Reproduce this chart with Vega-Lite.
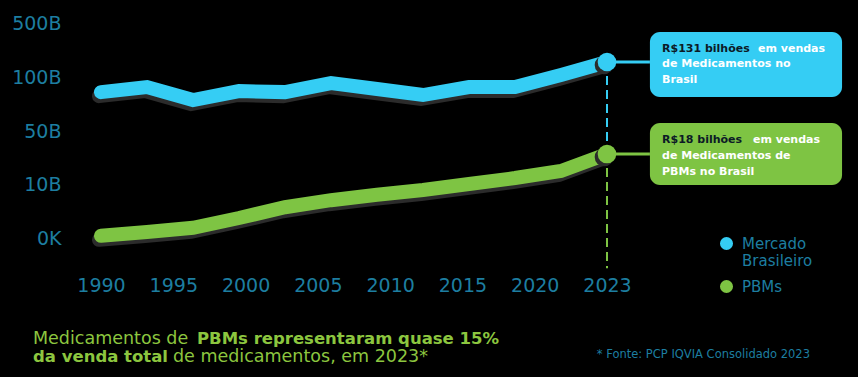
{
  "$schema": "https://vega.github.io/schema/vega-lite/v6.json",
  "autosize": "none",
  "padding": {"left": 70, "top": 0, "right": 0, "bottom": 107},
  "width": 788,
  "height": 270,
  "background": "#000000",
  "config": {
    "view": {"stroke": null},
    "axis": {"grid": false, "domain": false, "ticks": false, "labelFont": "DejaVu Sans", "labelFontSize": 19, "labelColor": "#1d7ea0", "labelOverlap": false, "labelFlush": false}
  },
  "datasets": {
    "serie": [
      {"ano": 1990, "valor": 86, "serie": "Mercado Brasileiro"},
      {"ano": 1993, "valor": 90.7, "serie": "Mercado Brasileiro"},
      {"ano": 1996, "valor": 78.7, "serie": "Mercado Brasileiro"},
      {"ano": 1999, "valor": 87, "serie": "Mercado Brasileiro"},
      {"ano": 2002, "valor": 86, "serie": "Mercado Brasileiro"},
      {"ano": 2005, "valor": 94.4, "serie": "Mercado Brasileiro"},
      {"ano": 2008, "valor": 88.9, "serie": "Mercado Brasileiro"},
      {"ano": 2011, "valor": 83.3, "serie": "Mercado Brasileiro"},
      {"ano": 2014, "valor": 90.7, "serie": "Mercado Brasileiro"},
      {"ano": 2017, "valor": 90.7, "serie": "Mercado Brasileiro"},
      {"ano": 2020, "valor": 114.8, "serie": "Mercado Brasileiro"},
      {"ano": 2023, "valor": 211, "serie": "Mercado Brasileiro"},
      {"ano": 1990, "valor": 0.4, "serie": "PBMs"},
      {"ano": 1993, "valor": 1.1, "serie": "PBMs"},
      {"ano": 1996, "valor": 1.9, "serie": "PBMs"},
      {"ano": 1999, "valor": 3.7, "serie": "PBMs"},
      {"ano": 2002, "valor": 5.7, "serie": "PBMs"},
      {"ano": 2005, "valor": 7.0, "serie": "PBMs"},
      {"ano": 2008, "valor": 8.0, "serie": "PBMs"},
      {"ano": 2011, "valor": 8.9, "serie": "PBMs"},
      {"ano": 2014, "valor": 10.0, "serie": "PBMs"},
      {"ano": 2017, "valor": 14.5, "serie": "PBMs"},
      {"ano": 2020, "valor": 19.8, "serie": "PBMs"},
      {"ano": 2023, "valor": 32.6, "serie": "PBMs"}
    ],
    "guias": [
      {"serie": "Mercado Brasileiro", "de": 211, "ate": 32.6},
      {"serie": "PBMs", "de": 32.6, "ate": -5.6}
    ],
    "caixas": [
      {"serie": "Mercado Brasileiro", "x1": 2025.8, "x2": 2038.33, "y1": 433, "y2": 81.5},
      {"serie": "PBMs", "x1": 2025.8, "x2": 2038.33, "y1": 57.4, "y2": 9.81}
    ],
    "textos": [
      {"grupo": "destaque", "x": 2026.59, "y": 307, "texto": "R$131 bilhões"},
      {"grupo": "caixa", "x": 2032.85, "y": 307, "texto": "em vendas"},
      {"grupo": "caixa", "x": 2026.59, "y": 196, "texto": "de Medicamentos no"},
      {"grupo": "caixa", "x": 2026.59, "y": 97.2, "texto": "Brasil"},
      {"grupo": "destaque", "x": 2026.59, "y": 43.2, "texto": "R$18 bilhões"},
      {"grupo": "caixa", "x": 2032.52, "y": 43.2, "texto": "em vendas"},
      {"grupo": "caixa", "x": 2026.59, "y": 31.1, "texto": "de Medicamentos de"},
      {"grupo": "caixa", "x": 2026.59, "y": 19.4, "texto": "PBMs no Brasil"},
      {"grupo": "rodape", "x": 1985.565, "y": -18.7, "texto": "Medicamentos de"},
      {"grupo": "rodape_negrito", "x": 1996.26, "y": -18.7, "texto": "PBMs representaram quase 15%"},
      {"grupo": "rodape_negrito", "x": 1985.565, "y": -22.0, "texto": "da venda total"},
      {"grupo": "rodape", "x": 1994.695, "y": -22.0, "texto": "de medicamentos, em 2023*"},
      {"grupo": "fonte", "x": 2036.24, "y": -21.67, "texto": "* Fonte: PCP IQVIA Consolidado 2023"}
    ]
  },
  "layer": [
    {
      "data": {"name": "guias"},
      "mark": {"type": "rule", "strokeDash": [9, 5], "strokeWidth": 2},
      "encoding": {
        "x": {"datum": 2023, "type": "quantitative"},
        "y": {"field": "de", "type": "quantitative"},
        "y2": {"field": "ate"},
        "color": {"field": "serie", "type": "nominal"}
      }
    },
    {
      "data": {"name": "serie"},
      "transform": [{"filter": "datum.ano == 2023"}],
      "mark": {"type": "rule", "strokeWidth": 3},
      "encoding": {
        "x": {"field": "ano", "type": "quantitative"},
        "x2": {"datum": 2025.8},
        "y": {"field": "valor", "type": "quantitative"},
        "color": {"field": "serie", "type": "nominal"}
      }
    },
    {
      "data": {"name": "caixas"},
      "mark": {"type": "rect", "cornerRadius": 10},
      "encoding": {
        "x": {"field": "x1", "type": "quantitative"},
        "x2": {"field": "x2"},
        "y": {"field": "y1", "type": "quantitative"},
        "y2": {"field": "y2"},
        "color": {"field": "serie", "type": "nominal"}
      }
    },
    {
      "data": {"name": "serie"},
      "mark": {"type": "line", "strokeWidth": 14, "strokeCap": "round", "color": "#2b2b2b", "xOffset": -2, "yOffset": 4},
      "encoding": {
        "x": {"field": "ano", "type": "quantitative"},
        "y": {"field": "valor", "type": "quantitative"},
        "detail": {"field": "serie"}
      }
    },
    {
      "data": {"name": "serie"},
      "mark": {"type": "line", "strokeWidth": 14, "strokeCap": "round"},
      "encoding": {
        "x": {
          "field": "ano", "type": "quantitative",
          "scale": {"domain": [1987.978, 2039.37], "nice": false, "zero": false},
          "axis": {
            "title": null,
            "values": [1990, 1994.714, 1999.429, 2004.143, 2008.857, 2013.571, 2018.286, 2023],
            "labelExpr": "['1990','1995','2000','2005','2010','2015','2020','2023'][round((datum.value-1990)*7/33)]",
            "labelPadding": 6
          }
        },
        "y": {
          "field": "valor", "type": "quantitative",
          "scale": {"type": "linear", "domain": [0, 10, 50, 100, 500], "range": [238, 184, 131, 77, 23], "nice": false, "zero": false},
          "axis": {
            "title": null,
            "values": [0, 10, 50, 100, 500],
            "labelExpr": "datum.value == 0 ? '0K' : datum.value + 'B'",
            "labelPadding": 9
          }
        },
        "color": {"field": "serie", "type": "nominal",
          "scale": {"domain": ["Mercado Brasileiro", "PBMs"], "range": ["#35cdf4", "#7ec443"]}}
      }
    },
    {
      "data": {"name": "serie"},
      "transform": [{"filter": "datum.ano == 2023"}],
      "mark": {"type": "point", "filled": true, "opacity": 1, "size": 346, "color": "#2b2b2b", "xOffset": -3, "yOffset": 3},
      "encoding": {
        "x": {"field": "ano", "type": "quantitative"},
        "y": {"field": "valor", "type": "quantitative"}
      }
    },
    {
      "data": {"name": "serie"},
      "transform": [{"filter": "datum.ano == 2023"}],
      "mark": {"type": "point", "filled": true, "opacity": 1, "size": 346, "shape": "circle"},
      "encoding": {
        "x": {"field": "ano", "type": "quantitative"},
        "y": {"field": "valor", "type": "quantitative"},
        "color": {
          "field": "serie", "type": "nominal",
          "legend": {
            "title": null, "orient": "none", "legendX": 649, "legendY": 236,
            "symbolType": "circle", "symbolSize": 170, "symbolOpacity": 1, "symbolStrokeWidth": 0,
            "labelFont": "DejaVu Sans", "labelFontSize": 15, "labelColor": "#1d7ea0",
            "labelOffset": 8, "rowPadding": 10,
            "labelExpr": "datum.label == 'Mercado Brasileiro' ? ['Mercado', 'Brasileiro'] : datum.label"
          }
        }
      }
    },
    {
      "data": {"name": "textos"},
      "transform": [{"filter": "datum.grupo == 'destaque'"}],
      "mark": {"type": "text", "font": "DejaVu Sans", "fontWeight": "bold", "fontSize": 11, "color": "#0c1a26", "align": "left", "baseline": "middle"},
      "encoding": {
        "x": {"field": "x", "type": "quantitative"},
        "y": {"field": "y", "type": "quantitative"},
        "text": {"field": "texto"}
      }
    },
    {
      "data": {"name": "textos"},
      "transform": [{"filter": "datum.grupo == 'caixa'"}],
      "mark": {"type": "text", "font": "DejaVu Sans", "fontWeight": "bold", "fontSize": 11, "color": "#ffffff", "align": "left", "baseline": "middle"},
      "encoding": {
        "x": {"field": "x", "type": "quantitative"},
        "y": {"field": "y", "type": "quantitative"},
        "text": {"field": "texto"}
      }
    },
    {
      "data": {"name": "textos"},
      "transform": [{"filter": "datum.grupo == 'rodape'"}],
      "mark": {"type": "text", "font": "DejaVu Sans", "fontSize": 17.5, "color": "#8cc63f", "align": "left", "baseline": "middle"},
      "encoding": {
        "x": {"field": "x", "type": "quantitative"},
        "y": {"field": "y", "type": "quantitative"},
        "text": {"field": "texto"}
      }
    },
    {
      "data": {"name": "textos"},
      "transform": [{"filter": "datum.grupo == 'rodape_negrito'"}],
      "mark": {"type": "text", "font": "DejaVu Sans", "fontWeight": "bold", "fontSize": 16.5, "color": "#8cc63f", "align": "left", "baseline": "middle"},
      "encoding": {
        "x": {"field": "x", "type": "quantitative"},
        "y": {"field": "y", "type": "quantitative"},
        "text": {"field": "texto"}
      }
    },
    {
      "data": {"name": "textos"},
      "transform": [{"filter": "datum.grupo == 'fonte'"}],
      "mark": {"type": "text", "font": "DejaVu Sans", "fontSize": 11.5, "color": "#1d7ea0", "align": "right", "baseline": "middle"},
      "encoding": {
        "x": {"field": "x", "type": "quantitative"},
        "y": {"field": "y", "type": "quantitative"},
        "text": {"field": "texto"}
      }
    }
  ]
}
